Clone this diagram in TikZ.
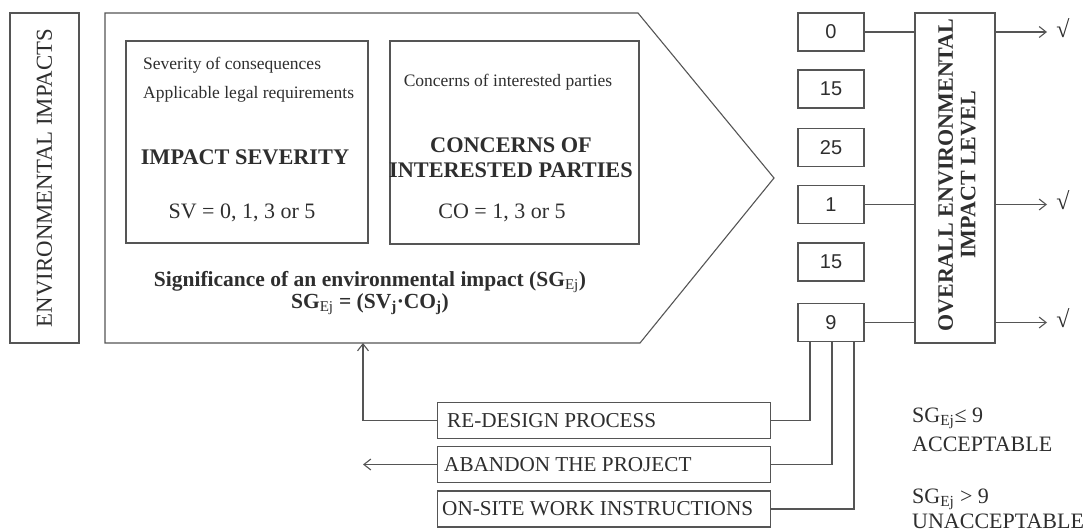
\documentclass[tikz,border=0pt]{standalone}
\usepackage{fontspec}
\setmainfont{Liberation Serif}
\setsansfont{Liberation Sans}
\usetikzlibrary{arrows.meta}
\definecolor{lc}{HTML}{555555}
\definecolor{tc}{HTML}{2E2E2E}
\begin{document}
\begin{tikzpicture}[x=1pt,y=-1pt,
  ln/.style={draw=lc, line width=1.1pt},
  box/.style={draw=lc, line width=1.1pt, inner sep=0pt},
  numbox/.style={box, minimum width=66pt, minimum height=38pt, text=tc,
    font=\sffamily\fontsize{20}{22}\selectfont},
  txt/.style={text=tc, inner sep=0pt},
  small/.style={txt, font=\fontsize{17.5}{20}\selectfont},
  head/.style={txt, font=\bfseries\fontsize{22.3}{25}\selectfont, align=center},
  reg/.style={txt, font=\fontsize{22}{24}\selectfont},
  actbox/.style={box, minimum height=36pt, minimum width=333pt},
  acttxt/.style={txt, anchor=west, font=\fontsize{21.2}{23}\selectfont},
  arr/.style={ln, -{Straight Barb[length=7pt,width=11pt]}},
  chk/.style={txt, font=\fontsize{24}{26}\selectfont},
]
\useasboundingbox (0,0) rectangle (1088,531);

% left box
\node[box, minimum width=69pt, minimum height=330pt] (env) at (44.5,178) {};
\node[reg, rotate=90, font=\fontsize{22.8}{24}\selectfont] (envt) at (env.center) {ENVIRONMENTAL IMPACTS};

% pentagon arrow
\draw[ln] (105,13) coordinate (pA) -- (638,13) coordinate (pB) -- (774,178) coordinate (pC)
  -- (640,343) coordinate (pD) -- (105,343) coordinate (pE) -- cycle;
\coordinate (fb) at (363,343);

% impact severity box
\node[box, minimum width=242pt, minimum height=202pt] (sev) at (247,142) {};
\node[small, anchor=west] (sev1) at (143,65) {Severity of consequences};
\node[small, anchor=west] (sev2) at (143,94) {Applicable legal requirements};
\node[head] (sevh) at (245,157) {IMPACT SEVERITY};
\node[reg] (sevv) at (242,213) {SV = 0, 1, 3 or 5};

% concerns box
\node[box, minimum width=249pt, minimum height=203pt] (con) at (514.5,142.5) {};
\node[small] (con1) at (508,82) {Concerns of interested parties};
\node[head] (conh) at (511,158) {CONCERNS OF\\INTERESTED PARTIES};
\node[reg] (conv) at (502,213) {CO = 1, 3 or 5};

% significance
\node[txt, align=center, font=\bfseries\fontsize{21.5}{22}\selectfont] (sig) at (370,293)
  {Significance of an environmental impact (SG{\mdseries\textsubscript{Ej}})\\
   SG{\mdseries\textsubscript{Ej}} = (SV\textsubscript{j}·CO\textsubscript{j})};

% number boxes
\node[numbox] (n0) at (831,32) {0};
\node[numbox] (n1) at (831,89) {15};
\node[numbox] (n2) at (831,147.5) {25};
\node[numbox] (n3) at (831,204.5) {1};
\node[numbox] (n4) at (831,262) {15};
\node[numbox] (n5) at (831,322.5) {9};

% overall box
\node[box, minimum width=80pt, minimum height=330pt] (ov) at (955,178) {};
\node[txt, rotate=90, align=center, font=\bfseries\fontsize{22}{22.5}\selectfont] (ovt) at (957,175)
  {OVERALL ENVIRONMENTAL\\IMPACT LEVEL};

\draw[ln] (n0.east) -- (n0.east -| ov.west);
\draw[ln] (n3.east) -- (n3.east -| ov.west);
\draw[ln] (n5.east) -- (n5.east -| ov.west);

\coordinate (a0) at (1047,32);
\coordinate (a1) at (1047,204.5);
\coordinate (a2) at (1047,322.5);
\draw[arr] (ov.east |- a0) -- (a0);
\draw[arr] (ov.east |- a1) -- (a1);
\draw[arr] (ov.east |- a2) -- (a2);
\node[chk] (k0) at (1063,28) {√};
\node[chk] (k1) at (1063,200) {√};
\node[chk] (k2) at (1063,318) {√};

% action boxes
\node[actbox, anchor=west] (rd) at (437,420.5) {};
\node[actbox, anchor=west] (ab) at (437,464.5) {};
\node[actbox, anchor=west] (os) at (437,509) {};
\node[acttxt] (rdt) at ([xshift=10pt]rd.west) {RE-DESIGN PROCESS};
\node[acttxt] (abt) at ([xshift=7pt]ab.west) {ABANDON THE PROJECT};
\node[acttxt] (ost) at ([xshift=5pt]os.west) {ON-SITE WORK INSTRUCTIONS};

\draw[ln] ([xshift=-21pt]n5.south) |- (rd.east);
\draw[ln] ([xshift=1pt]n5.south) |- (ab.east);
\draw[ln] ([xshift=23pt]n5.south) |- (os.east);

\draw[arr] (rd.west) -| (fb);
\coordinate (abend) at (363,464.5);
\draw[arr] (ab.west) -- (abend);

% thresholds
\node[reg, anchor=base west] (t1) at (912,422) {SG\textsubscript{Ej}≤ 9};
\node[reg, anchor=base west] (t2) at (912,451) {ACCEPTABLE};
\node[reg, anchor=base west] (t3) at (912,503) {SG\textsubscript{Ej} > 9};
\node[reg, anchor=base west] (t4) at (912,528) {UNACCEPTABLE};
\end{tikzpicture}
\end{document}
